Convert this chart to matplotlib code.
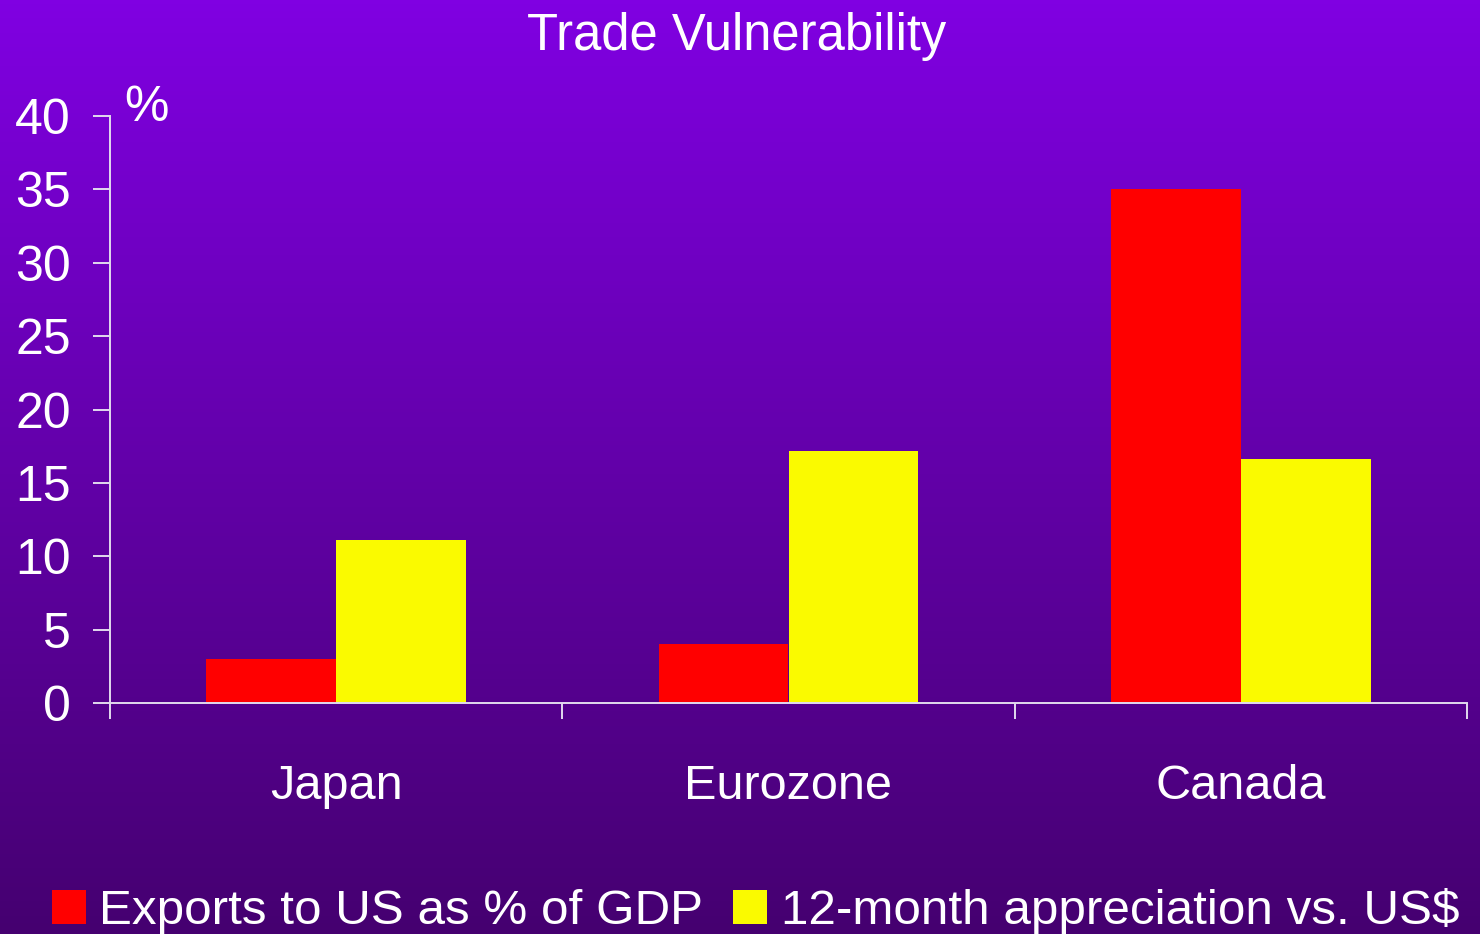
import numpy as np
import matplotlib.pyplot as plt
from matplotlib.patches import Patch

plt.rcParams['font.family'] = ['Liberation Sans', 'DejaVu Sans']

# data
countries = ['Japan', 'Eurozone', 'Canada']
exports_gdp = [3.0, 4.0, 35.0]
appreciation = [11.1, 17.2, 16.6]
y_ticks = [0, 5, 10, 15, 20, 25, 30, 35, 40]

red = '#FF0000'
yellow = '#FAFA00'
line_col = '#E2DAEE'

fig = plt.figure(figsize=(14.8, 9.34), dpi=100)

# purple gradient background
bg = fig.add_axes([0, 0, 1, 1], zorder=-10)
top = np.array([0x80, 0x00, 0xE2]) / 255
bot = np.array([0x45, 0x00, 0x70]) / 255
t = np.linspace(0, 1, 256)[:, None]
grad = (top * (1 - t) + bot * t)[:, None, :]
bg.imshow(grad, aspect='auto', extent=[0, 1, 0, 1])
bg.axis('off')

ax = fig.add_axes([110 / 1480, 1 - 703 / 934, 1357 / 1480, 587 / 934])
ax.set_facecolor('none')

x = np.arange(len(countries))
w = 0.287
ax.bar(x - w / 2, exports_gdp, w, color=red, zorder=2)
ax.bar(x + w / 2, appreciation, w, color=yellow, zorder=2)

ax.set_xlim(-0.5, 2.5)
ax.set_ylim(0, 40)
ax.set_yticks(y_ticks)
ax.set_xticks(x)
ax.set_xticklabels(countries)
ax.set_xticks([-0.5, 0.5, 1.5, 2.5], minor=True)

for s in ['top', 'right']:
    ax.spines[s].set_visible(False)
for s in ['left', 'bottom']:
    ax.spines[s].set_color(line_col)
    ax.spines[s].set_linewidth(1.4)

ax.tick_params(axis='y', colors=line_col, labelcolor='white', labelsize=36,
               length=12, width=1.4, pad=16)
ax.tick_params(axis='x', which='major', length=0, labelcolor='white',
               labelsize=35, pad=44)
ax.tick_params(axis='x', which='minor', colors=line_col, length=11.5,
               width=1.4)

fig.text(124 / 1480, 1 - 121 / 934, '%', color='white', fontsize=36,
         va='baseline', ha='left')
fig.text(737 / 1480, 1 - 50 / 934, 'Trade Vulnerability', color='white',
         fontsize=36.5, ha='center', va='baseline')

handles = [Patch(facecolor=red, label='Exports to US as % of GDP'),
           Patch(facecolor=yellow, label='12-month appreciation vs. US$')]
fig.legend(handles=handles, loc='center left', ncol=2, frameon=False,
           bbox_to_anchor=(52 / 1480, 1 - 911 / 934),
           bbox_transform=fig.transFigure, fontsize=35.6, labelcolor='white',
           handlelength=0.68, handleheight=0.68, handletextpad=0.28,
           columnspacing=0.6, borderpad=0, borderaxespad=0)

fig.savefig('out.png', dpi=100)
